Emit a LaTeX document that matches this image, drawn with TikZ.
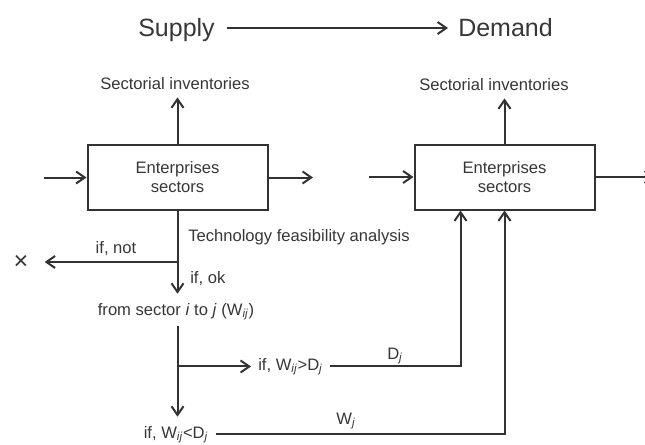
\documentclass[tikz,border=0pt]{standalone}
\usepackage{fontspec}
\setmainfont{Liberation Sans}
\usetikzlibrary{arrows.meta,calc}
\definecolor{ink}{RGB}{50,50,50}
\definecolor{txt}{RGB}{55,55,55}
\newcommand\smallfont{\fontsize{12.45}{14.25}\selectfont}
\newcommand\bigfont{\fontsize{18.75}{22}\selectfont}
\tikzset{
  flow/.style={draw=ink, line width=1.5pt, -{Straight Barb[length=6.5pt,width=9pt]}},
  sectorbox/.style={draw=ink, line width=1.5pt, minimum width=135pt, minimum height=48.75pt,
    align=center, inner sep=0pt, text=txt, font=\smallfont},
  lbl/.style={inner sep=0pt, text=txt, font=\smallfont},
  cond/.style={inner ysep=0pt, inner xsep=5.25pt, text=txt, font=\smallfont},
}
\begin{document}
\begin{tikzpicture}[x=0.75pt,y=-0.75pt]
\useasboundingbox (0,0) rectangle (645,444);
\clip (0,0) rectangle (645,444);
\fill[white] (0,0) rectangle (645,444);

% heading
\node[lbl, font=\bigfont, anchor=base east] (sup) at (215,36.5) {Supply};
\node[lbl, font=\bigfont, anchor=base west] (dem) at (458,36.5) {Demand};
\draw[flow] ($(sup.base east)+(12,-8.5)$) -- ($(dem.base west)+(-10,-8.5)$);

% the two sector boxes
\node[sectorbox] (L) at (177.5,177.5) {Enterprises\\sectors};
\node[sectorbox] (R) at (504.5,177) {Enterprises\\sectors};

\node[lbl, anchor=base] (invL) at (175,89) {Sectorial inventories};
\node[lbl, anchor=base] (invR) at (494,90) {Sectorial inventories};
\draw[flow] (L.north) -- ($(L.north |- invL.south)+(0,8)$);
\draw[flow] (R.north) -- ($(R.north |- invR.south)+(0,8)$);

\coordinate (inL) at (44,177.5);
\coordinate (outL) at (313,177.5);
\coordinate (inR) at (369,177);
\coordinate (outR) at (655,177);
\draw[flow] (inL) -- (L.west);
\draw[flow] (L.east) -- (outL);
\draw[flow] (inR) -- (R.west);
\draw[flow] (R.east) -- (outR);

% feasibility test
\node[lbl, anchor=base west] (tech) at (188,241) {Technology feasibility analysis};
\node[lbl, anchor=base] (ifnot) at (116,253) {if, not};
\node[lbl, font=\fontsize{19}{20}\selectfont] (xm) at (21,262) {×};
\node[lbl, anchor=base west] (ifok) at (190,283) {if, ok};
\node[lbl, anchor=base] (fs) at (176,315) {from sector \textit{i} to \textit{j} (W\textsubscript{\textit{ij}})};
\draw[flow, shorten >=6.75pt] (L.south) -- (L.south |- fs.north);
\draw[flow, shorten >=12pt] (L.south |- xm) -- (xm.east);

% supply versus demand
\node[cond, anchor=base west] (gt) at (251,370) {if, W\textsubscript{\textit{ij}}>D\textsubscript{\textit{j}}};
\node[cond, anchor=base] (lt) at (176,438) {if, W\textsubscript{\textit{ij}}<D\textsubscript{\textit{j}}};
\draw[flow, shorten <=3.75pt, shorten >=6.75pt] (L.south |- fs.south) -- (L.south |- lt.north);
\draw[flow] (L.south |- gt.mid west) -- (gt.mid west);

\coordinate (Rd) at ($(R.south)+(-44,0)$);
\draw[flow] (gt.mid east) -| (Rd);
\draw[flow] (lt.mid east) -| (R.south);
\node[lbl, anchor=base] (dj) at (395,359) {D\textsubscript{\textit{j}}};
\node[lbl, anchor=base] (wj) at (346,424) {W\textsubscript{\textit{j}}};
\end{tikzpicture}
\end{document}
